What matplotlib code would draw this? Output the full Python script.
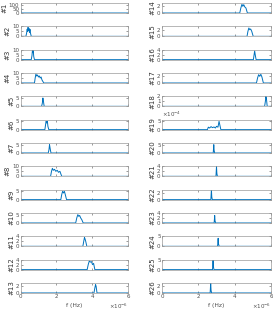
import numpy as np
import matplotlib
matplotlib.use("Agg")
import matplotlib.pyplot as plt

# spectra: frequency (x1e-6 Hz) and amplitude per trace
freqs = {
    1: [0, 0.01, 0.03, 0.05, 0.08, 6],
    2: [0, 0.3, 0.34, 0.37, 0.4, 0.42, 0.45, 0.47, 0.5, 0.53, 0.56, 0.6, 6],
    3: [0, 0.6, 0.64, 0.67, 0.69, 0.71, 0.74, 0.78, 6],
    4: [0, 0.78, 0.82, 0.86, 0.9, 0.95, 1.0, 1.05, 1.1, 1.15, 1.2, 1.3, 6],
    5: [0, 1.18, 1.22, 1.25, 1.28, 1.32, 6],
    6: [0, 1.36, 1.4, 1.43, 1.46, 1.5, 1.53, 1.58, 6],
    7: [0, 1.55, 1.59, 1.62, 1.65, 1.7, 6],
    8: [0, 1.68, 1.73, 1.78, 1.83, 1.9, 1.97, 2.05, 2.12, 2.2, 2.3, 6],
    9: [0, 2.25, 2.3, 2.35, 2.4, 2.45, 2.5, 2.57, 6],
    10: [0, 3.08, 3.14, 3.2, 3.25, 3.3, 3.36, 3.42, 3.5, 6],
    11: [0, 3.48, 3.53, 3.57, 3.6, 3.64, 3.7, 6],
    12: [0, 3.72, 3.78, 3.84, 3.9, 3.96, 4.02, 4.08, 4.15, 6],
    13: [0, 4.1, 4.15, 4.19, 4.22, 4.27, 6],
    14: [0, 4.28, 4.34, 4.4, 4.45, 4.5, 4.56, 4.62, 4.7, 6],
    15: [0, 4.68, 4.73, 4.78, 4.83, 4.88, 4.94, 5.02, 6],
    16: [0, 5.03, 5.07, 5.1, 5.13, 5.18, 6],
    17: [0, 5.2, 5.26, 5.32, 5.38, 5.44, 5.5, 5.58, 6],
    18: [0, 5.65, 5.69, 5.72, 5.75, 5.79, 6],
    19: [0, 2.5, 2.55, 2.62, 2.7, 2.78, 2.86, 2.94, 3.0, 3.08, 3.14, 3.2, 3.24, 6],
    20: [0, 2.82, 2.85, 2.87, 2.9, 6],
    21: [0, 2.97, 3.0, 3.02, 3.05, 6],
    22: [0, 2.69, 2.72, 2.74, 2.77, 6],
    23: [0, 2.87, 2.9, 2.92, 2.96, 6],
    24: [0, 3.06, 3.09, 3.11, 3.15, 6],
    25: [0, 2.78, 2.81, 2.83, 2.86, 6],
    26: [0, 2.65, 2.68, 2.7, 2.73, 6],
}
amps = {
    1: [0, 60, 8, 1, 0, 0],
    2: [0, 0, 3, 7, 5, 9, 6, 8, 4, 7, 3, 0, 0],
    3: [0, 0, 4, 10, 7, 9, 3, 0, 0],
    4: [0, 0, 5, 9, 7, 8, 6, 7, 5, 6, 3, 0, 0],
    5: [0, 0, 2, 5, 3, 0, 0],
    6: [0, 0, 3, 5, 4, 5, 2, 0, 0],
    7: [0, 0, 2, 5, 3, 0, 0],
    8: [0, 0, 5, 8, 6, 7, 5, 6, 4, 5, 0, 0],
    9: [0, 0, 3, 5, 4, 5, 3, 0, 0],
    10: [0, 0, 3, 5, 4, 4.5, 3, 2, 0, 0],
    11: [0, 0, 2, 3.5, 3, 2, 0, 0],
    12: [0, 0, 2, 3.5, 3, 3.2, 2, 2.5, 0, 0],
    13: [0, 0, 1.5, 2.5, 2, 0, 0],
    14: [0, 0, 1.5, 2.6, 2, 2.5, 1.8, 1.5, 0, 0],
    15: [0, 0, 1.5, 2.5, 2, 2.2, 1.5, 0, 0],
    16: [0, 0, 2, 3.5, 2, 0, 0],
    17: [0, 0, 1.5, 2.5, 2, 2.6, 1.8, 0, 0],
    18: [0, 0, 1, 2, 1.5, 0, 0],
    19: [0, 0, 1.5e-4, 1e-4, 1.8e-4, 1.2e-4, 1.6e-4, 1e-4, 2e-4, 1.5e-4, 5e-4, 2e-4, 0, 0],
    20: [0, 0, 5, 1.5, 0, 0],
    21: [0, 0, 4, 1.2, 0, 0],
    22: [0, 0, 3, 0.8, 0, 0],
    23: [0, 0, 3, 0.8, 0, 0],
    24: [0, 0, 4, 1.2, 0, 0],
    25: [0, 0, 5, 1.5, 0, 0],
    26: [0, 0, 3, 0.8, 0, 0],
}
ylims = {1: 120, 2: 10, 3: 10, 4: 10, 5: 6, 6: 6, 7: 6, 8: 10, 9: 6, 10: 6,
         11: 4, 12: 4, 13: 3, 14: 3, 15: 3, 16: 4, 17: 3, 18: 2, 19: 6e-4,
         20: 6, 21: 4, 22: 3, 23: 4, 24: 5, 25: 5, 26: 3}
yticks = {1: [0, 50, 100], 2: [0, 5, 10], 3: [0, 5, 10], 4: [0, 5, 10],
          5: [0, 5], 6: [0, 5], 7: [0, 5], 8: [0, 5, 10], 9: [0, 5], 10: [0, 5],
          11: [0, 2, 4], 12: [0, 2, 4], 13: [0, 2], 14: [0, 2], 15: [0, 2],
          16: [0, 2, 4], 17: [0, 2], 18: [0, 1, 2], 19: [0, 5e-4], 20: [0, 5],
          21: [0, 2, 4], 22: [0, 2], 23: [0, 2, 4], 24: [0, 5], 25: [0, 5],
          26: [0, 2]}
xticks = [0, 2, 4, 6]

W, H = 273, 312
fig = plt.figure(figsize=(W / 100, H / 100), dpi=100)
blue = '#0072BD'
grey = '#4d4d4d'
fs = 4.0

col_left = [20.5, 162]
col_width = [107.5, 109]
for n in range(1, 27):
    col = 0 if n <= 13 else 1
    row = (n - 1) % 13
    top = 3 + 23.33 * row
    ax = fig.add_axes([col_left[col] / W, 1 - (top + 10) / H,
                       col_width[col] / W, 10 / H])
    ax.plot(freqs[n], amps[n], color=blue, lw=0.7)
    ax.set_xlim(0, 6)
    ax.set_ylim(0, ylims[n])
    ax.set_xticks(xticks)
    if n == 19:
        ax.set_yticks(yticks[n], ['0', '5'])
        ax.text(0.0, 1.05, r'$\times10^{-4}$', transform=ax.transAxes,
                fontsize=fs, color=grey, va='bottom')
    else:
        ax.set_yticks(yticks[n], [str(v) for v in yticks[n]])
    ax.tick_params(direction='in', length=1.2, width=0.4, colors=grey,
                   labelsize=fs, pad=1, top=True, right=True)
    if row < 12:
        ax.set_xticklabels([])
    else:
        ax.set_xlabel('f (Hz)', fontsize=fs + 0.3, color=grey, labelpad=2.5)
        ax.text(1.0, -1.3, r'$\times10^{-6}$', transform=ax.transAxes,
                fontsize=fs, color=grey, ha='right', va='center')
    for s in ax.spines.values():
        s.set_color('#9a9a9a')
        s.set_linewidth(0.5)
    ax.set_ylabel('#%d' % n, fontsize=fs + 1.0, color='#333333', labelpad=1)

fig.savefig('out.png', dpi=100)
